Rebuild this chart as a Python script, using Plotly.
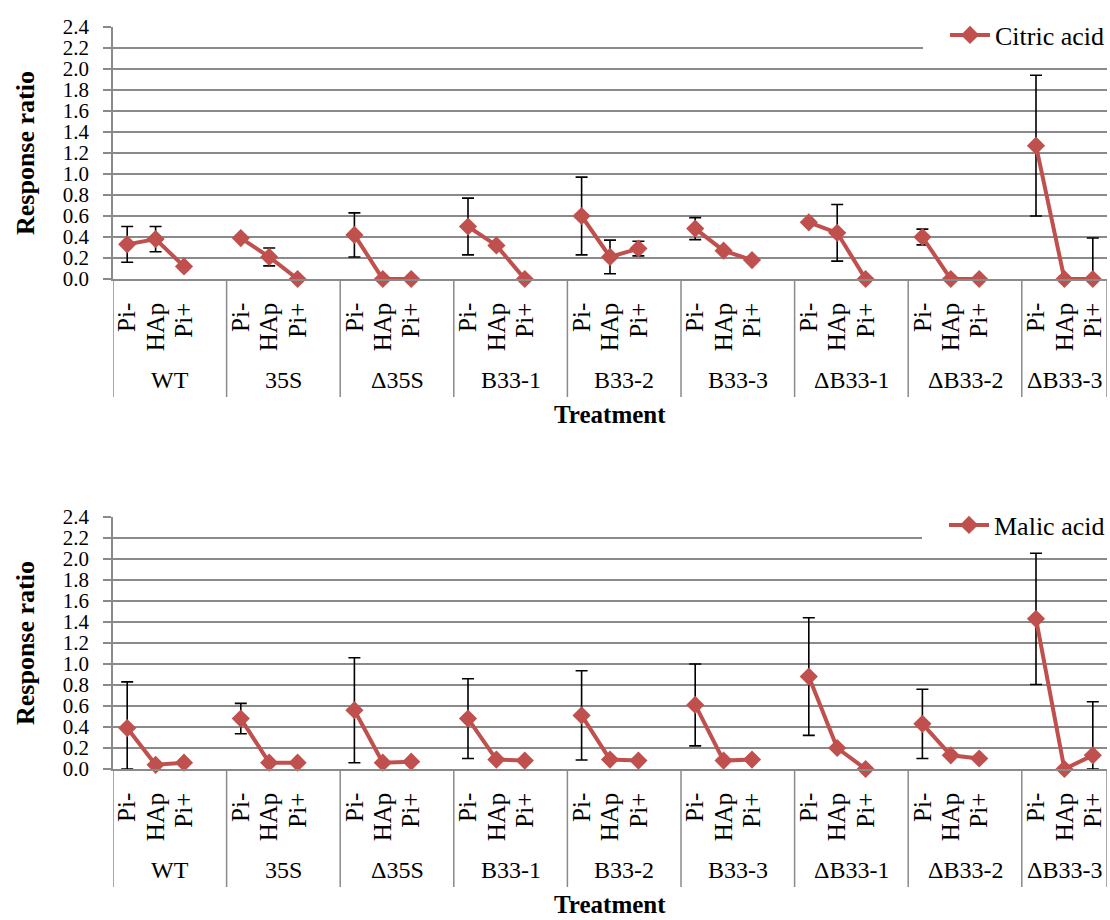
import plotly.graph_objects as go

# ---------------- data ----------------
groups = ["WT", "35S", "\u039435S", "B33-1", "B33-2", "B33-3", "\u0394B33-1", "\u0394B33-2", "\u0394B33-3"]
subs = ["Pi-", "HAp", "Pi+"]

citric = [0.33, 0.38, 0.12,
          0.39, 0.21, 0.00,
          0.42, 0.00, 0.00,
          0.50, 0.32, 0.00,
          0.60, 0.21, 0.29,
          0.48, 0.27, 0.18,
          0.54, 0.44, 0.00,
          0.40, 0.00, 0.00,
          1.27, 0.00, 0.00]
citric_err = [0.17, 0.12, None,
              None, 0.085, None,
              0.21, None, None,
              0.27, None, None,
              0.37, 0.16, 0.07,
              0.105, None, None,
              None, 0.27, None,
              0.075, None, None,
              0.67, None, 0.39]

malic = [0.39, 0.04, 0.06,
         0.48, 0.06, 0.06,
         0.56, 0.06, 0.07,
         0.48, 0.09, 0.08,
         0.51, 0.09, 0.08,
         0.61, 0.08, 0.09,
         0.88, 0.20, 0.00,
         0.43, 0.13, 0.10,
         1.43, 0.00, 0.13]
malic_err = [0.44, None, None,
             0.145, None, None,
             0.50, None, None,
             0.38, None, None,
             0.425, None, None,
             0.39, None, None,
             0.56, None, None,
             0.33, None, None,
             0.625, None, 0.51]

y_ticks = [round(0.2 * i, 1) for i in range(13)]

# ---------------- style ----------------
RED = "#C0504D"
GRID = "#8A8A8A"
FONT = "Liberation Serif, Times New Roman, serif"
W, H = 1110, 920
PX0, PX1 = 113, 1107
charts = [
    dict(name="Citric acid", y=citric, err=citric_err, top=27, bottom=279, xa="x", ya="y", leg="legend"),
    dict(name="Malic acid", y=malic, err=malic_err, top=517, bottom=769, xa="x2", ya="y2", leg="legend2"),
]

n_slots = 4 * len(groups) - 1
slot_pos = []
for g in range(len(groups)):
    for k in range(len(subs)):
        slot_pos.append(4 * g + k)

def with_gaps(vals):
    out = [None] * n_slots
    for p, v in zip(slot_pos, vals):
        out[p] = v
    return out

fig = go.Figure()
annotations = []
shapes = []
plot_h = 252.0

for i, c in enumerate(charts):
    yv = with_gaps(c["y"])
    ev = with_gaps(c["err"])
    plus = list(ev)
    minus = [(min(e, v) if (e is not None and v is not None) else None) for e, v in zip(ev, yv)]
    fig.add_trace(go.Scatter(
        x=list(range(n_slots)), y=yv, name=c["name"], mode="lines+markers",
        line=dict(color=RED, width=4), connectgaps=False,
        marker=dict(symbol="diamond", size=14, color=RED),
        error_y=dict(type="data", symmetric=False, array=plus, arrayminus=minus,
                     color="black", thickness=1.6, width=6),
        cliponaxis=False, xaxis=c["xa"], yaxis=c["ya"], legend=c["leg"], showlegend=True,
    ))
    sfx = "" if i == 0 else "2"
    dom = [1 - c["bottom"] / H, 1 - c["top"] / H]
    fig.update_layout(**{
        "xaxis" + sfx: dict(
            domain=[PX0 / W, PX1 / W], range=[-0.5, n_slots - 0.5],
            tickmode="array", tickvals=slot_pos, ticktext=subs * len(groups),
            tickangle=-90, ticks="", showgrid=False, zeroline=False,
            showline=True, linecolor=GRID, linewidth=1.5,
            tickfont=dict(family=FONT, size=25, color="black"),
            ticklabelstandoff=12,
            anchor="y" + sfx, automargin=False, fixedrange=True,
        ),
        "yaxis" + sfx: dict(
            domain=dom, range=[0, 2.4], tickmode="array", tickvals=y_ticks,
            ticktext=[f"{t:.1f}" for t in y_ticks],
            showgrid=True, gridcolor=GRID, gridwidth=1.5, zeroline=False,
            showline=True, linecolor=GRID, linewidth=1.5,
            ticks="outside", ticklen=8, tickcolor=GRID, tickwidth=1.5,
            tickfont=dict(family=FONT, size=21, color="black"),
            ticklabelstandoff=10,
            anchor="x" + sfx, automargin=False, fixedrange=True,
        ),
        c["leg"]: dict(
            x=1.0, xanchor="right", y=1 - (c["top"] + 8) / H, yanchor="middle",
            bgcolor="white", borderwidth=0,
            font=dict(family=FONT, size=26, color="black"),
            itemwidth=40, indentation=22,
        ),
    })
    xr = c["xa"]
    yd = c["ya"] + " domain"
    # group dividers
    bounds = [-0.5] + [4 * g + 3.5 for g in range(len(groups) - 1)] + [n_slots - 0.5]
    for b in bounds:
        shapes.append(dict(type="line", xref=xr, yref=yd, x0=b, x1=b, y0=0, y1=-118 / plot_h,
                           line=dict(color=GRID, width=1.5)))
    # group labels
    for g, name in enumerate(groups):
        lo = bounds[g]
        hi = bounds[g + 1]
        annotations.append(dict(text=name, xref=xr, yref=yd, x=(lo + hi) / 2, y=-101 / plot_h,
                                showarrow=False, xanchor="center", yanchor="middle",
                                font=dict(family=FONT, size=24, color="black")))
    # axis titles
    annotations.append(dict(text="<b>Treatment</b>", xref=c["xa"] + " domain", yref=yd,
                            x=0.5, y=-135 / plot_h, showarrow=False,
                            xanchor="center", yanchor="middle",
                            font=dict(family=FONT, size=25, color="black")))
    annotations.append(dict(text="<b>Response ratio</b>", xref="paper", yref=yd,
                            x=25 / W, y=0.5, showarrow=False, textangle=-90,
                            xanchor="center", yanchor="middle",
                            font=dict(family=FONT, size=26, color="black")))

fig.update_layout(
    width=W, height=H, margin=dict(l=0, r=0, t=0, b=0),
    paper_bgcolor="white", plot_bgcolor="white",
    annotations=annotations, shapes=shapes,
    font=dict(family=FONT, color="black"),
)

fig.write_html(
    "out.html",
    config={"displayModeBar": False},
    post_script="document.body.style.margin='0';document.body.style.overflow='hidden';",
)
